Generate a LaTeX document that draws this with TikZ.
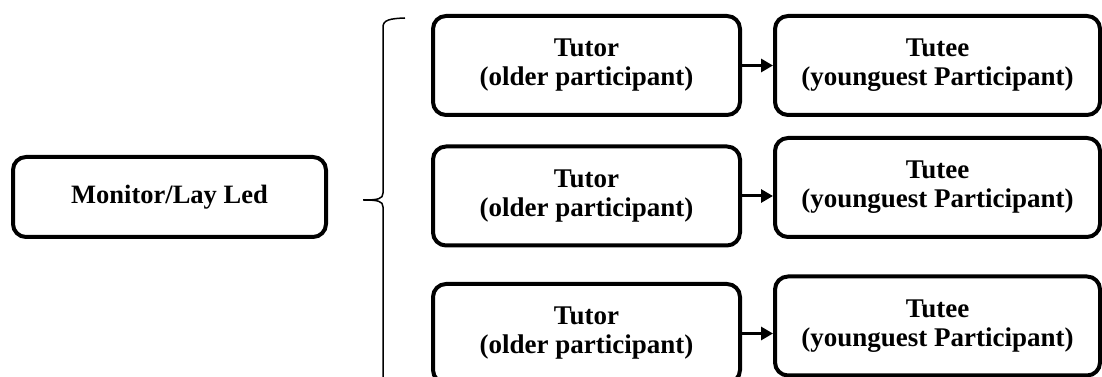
\documentclass[tikz,border=0pt]{standalone}
\usepackage{fontspec}
\setmainfont{Liberation Serif}
\usetikzlibrary{arrows.meta}
\begin{document}
\begin{tikzpicture}[x=1pt,y=1pt,
  box/.style={draw=black, line width=4pt, rounded corners=13pt, align=center,
    font=\bfseries\fontsize{27}{29}\selectfont, inner sep=0pt},
  tutorbox/.style={box, minimum width=307pt, minimum height=99pt},
  tuteebox/.style={box, minimum width=325pt, minimum height=99pt},
  arr/.style={line width=3pt, -{Triangle[length=12pt,width=13pt]}},
  brace/.style={line width=1.5pt}]
\useasboundingbox (0,0) rectangle (1102,377);
\clip (0,0) rectangle (1102,377);
\node[box, minimum width=313pt, minimum height=80pt, font=\bfseries\fontsize{26.5}{30}\selectfont] (m) at (169.5,180) {Monitor/Lay Led};
\node[tutorbox] (t1) at (586.5,311.5) {Tutor\\(older participant)};
\node[tutorbox] (t2) at (586.5,181) {Tutor\\(older participant)};
\node[tutorbox] (t3) at (586.5,43.5) {Tutor\\(older participant)};
\node[tuteebox] (s1) at (937.5,311.5) {Tutee\\(younguest Participant)};
\node[tuteebox] (s2) at (937.5,189.5) {Tutee\\(younguest Participant)};
\node[tuteebox] (s3) at (937.5,51) {Tutee\\(younguest Participant)};
\draw[arr] (t1.east) -- (s1.west |- t1.east);
\draw[arr] (t2.east) -- (s2.west |- t2.east);
\draw[arr] (t3.east) -- (s3.west |- t3.east);
\coordinate (btop) at (405,359);
\coordinate (btip) at (363,177);
\coordinate (bbot) at (383,-2);
\draw[brace] (btop) .. controls (390,358.5) and (383,357) .. (383,350)
  -- (383,184) .. controls (383,178) and (378,177) .. (btip)
  .. controls (378,177) and (383,176) .. (383,170) -- (bbot);
\end{tikzpicture}
\end{document}
